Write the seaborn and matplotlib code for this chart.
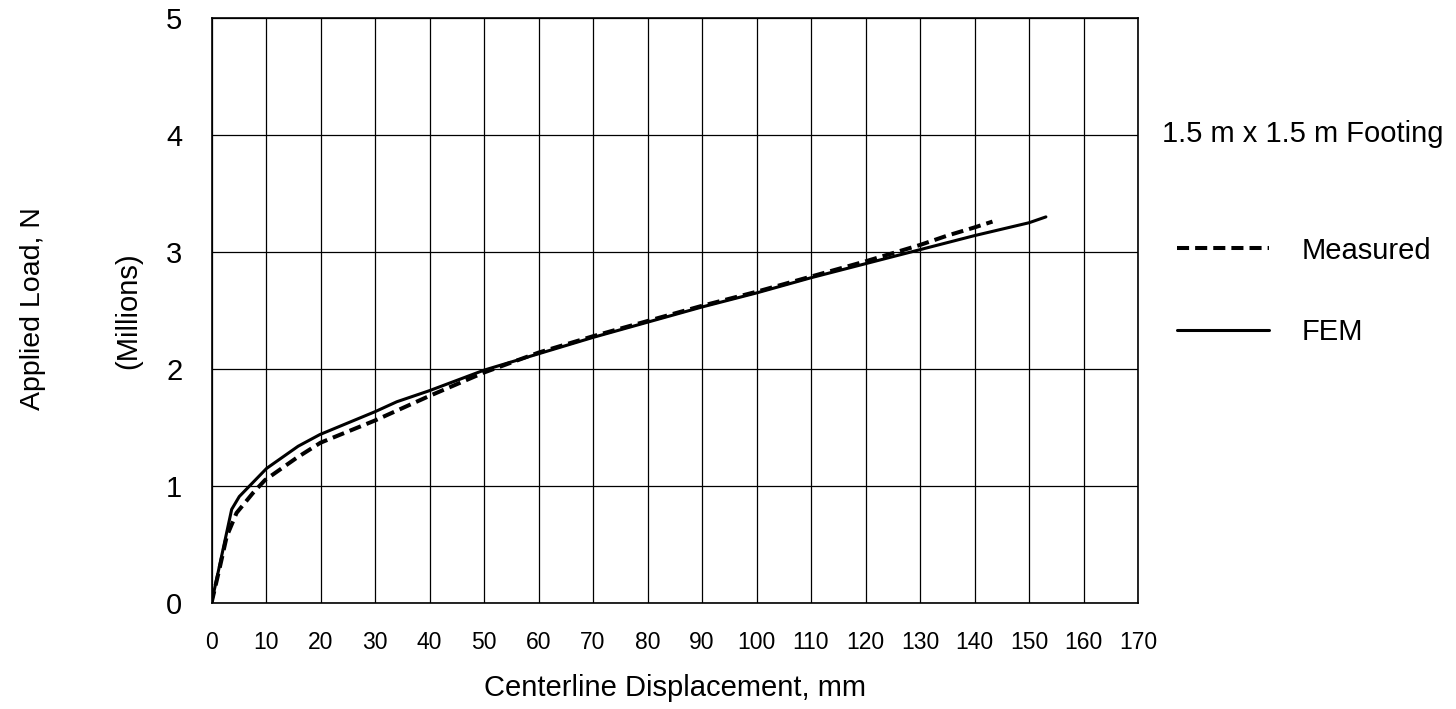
import numpy as np
import pandas as pd
import matplotlib
matplotlib.use("Agg")
import matplotlib.pyplot as plt
import seaborn as sns

# Load-displacement curves for the 1.5 m x 1.5 m footing
measured_disp = [0, 1.5, 2.8, 4.6, 7.6, 9.8, 15.6, 20, 30, 40, 50, 60, 70, 80,
                 90, 100, 110, 120, 125, 130, 135, 140, 143.3]
measured_load = [0, 0.30, 0.57, 0.77, 0.94, 1.05, 1.24, 1.37, 1.56, 1.77, 1.97,
                 2.14, 2.28, 2.41, 2.54, 2.66, 2.79, 2.92, 2.99, 3.06, 3.14,
                 3.21, 3.26]

fem_disp = [0, 3.7, 5.1, 10.1, 15.9, 19.9, 30, 34, 40, 50, 60, 70, 80, 90, 100,
            110, 120, 130, 140, 150, 153.1]
fem_load = [0, 0.80, 0.91, 1.15, 1.34, 1.44, 1.635, 1.72, 1.815, 1.99, 2.13,
            2.27, 2.40, 2.53, 2.65, 2.78, 2.90, 3.02, 3.14, 3.25, 3.30]

series_names = ["Measured", "FEM"]
x_ticks = list(range(0, 171, 10))
y_ticks = [0, 1, 2, 3, 4, 5]

df = pd.concat([
    pd.DataFrame({"disp": measured_disp, "load": measured_load,
                  "series": series_names[0]}),
    pd.DataFrame({"disp": fem_disp, "load": fem_load,
                  "series": series_names[1]}),
], ignore_index=True)

sns.set_style("white")
plt.rcParams["font.family"] = ["Liberation Sans", "DejaVu Sans"]
plt.rcParams["text.color"] = "black"
plt.rcParams["axes.labelcolor"] = "black"
plt.rcParams["xtick.color"] = "black"
plt.rcParams["ytick.color"] = "black"

DASH = (3.0, 1.5)
LW_MEAS, LW_FEM = 2.9, 2.2

fig = plt.figure(figsize=(14.56, 7.09), dpi=100)
ax = fig.add_axes([211.5 / 1456, 1 - 603 / 709,
                   (1138 - 211.5) / 1456, (603 - 18) / 709])

sns.lineplot(data=df, x="disp", y="load", style="series",
             hue="series", palette={"Measured": "black", "FEM": "black"},
             dashes={"Measured": DASH, "FEM": ""},
             size="series", sizes={"Measured": LW_MEAS, "FEM": LW_FEM},
             sort=False, estimator=None, ax=ax, legend=False)

ax.set_xlim(0, 170)
ax.set_ylim(0, 5)
ax.set_xticks(x_ticks)
ax.set_yticks(y_ticks)
ax.set_xticklabels([str(t) for t in x_ticks], fontsize=16.5)
ax.set_yticklabels([str(t) for t in y_ticks], fontsize=21)
ax.tick_params(axis="x", length=0, pad=20)
ax.tick_params(axis="y", length=0, pad=21)
ax.grid(True, color="black", linewidth=0.9)
ax.set_axisbelow(True)
for sp in ax.spines.values():
    sp.set_color("black")
    sp.set_linewidth(1.2)

ax.set_xlabel("Centerline Displacement, mm", fontsize=21, va="center")
ax.xaxis.set_label_coords(0.5, (603 - 688) / 585)
ax.set_ylabel("")

fig.text(33 / 1456, 1 - 309 / 709, "Applied Load, N", rotation=90,
         ha="center", va="center", fontsize=20.5)
fig.text(128 / 1456, 1 - 311 / 709, "(Millions)", rotation=90,
         ha="center", va="center", fontsize=21)

# Legend block on the right
fig.text(1162 / 1456, 1 - 134 / 709, "1.5 m x 1.5 m Footing",
         ha="left", va="center", fontsize=21)
legend_rows = [(248, 251, series_names[0], DASH, LW_MEAS),
               (330, 332, series_names[1], None, LW_FEM)]
for y_line, y_text, name, dash, lw in legend_rows:
    yl = 1 - y_line / 709
    line = matplotlib.lines.Line2D([1177 / 1456, 1269 / 1456], [yl, yl],
                                   transform=fig.transFigure, color="black",
                                   linewidth=lw)
    if dash is not None:
        line.set_dashes(dash)
    fig.add_artist(line)
    fig.text(1302 / 1456, 1 - y_text / 709, name, ha="left", va="center",
             fontsize=21)

fig.savefig("out.png", dpi=100)
